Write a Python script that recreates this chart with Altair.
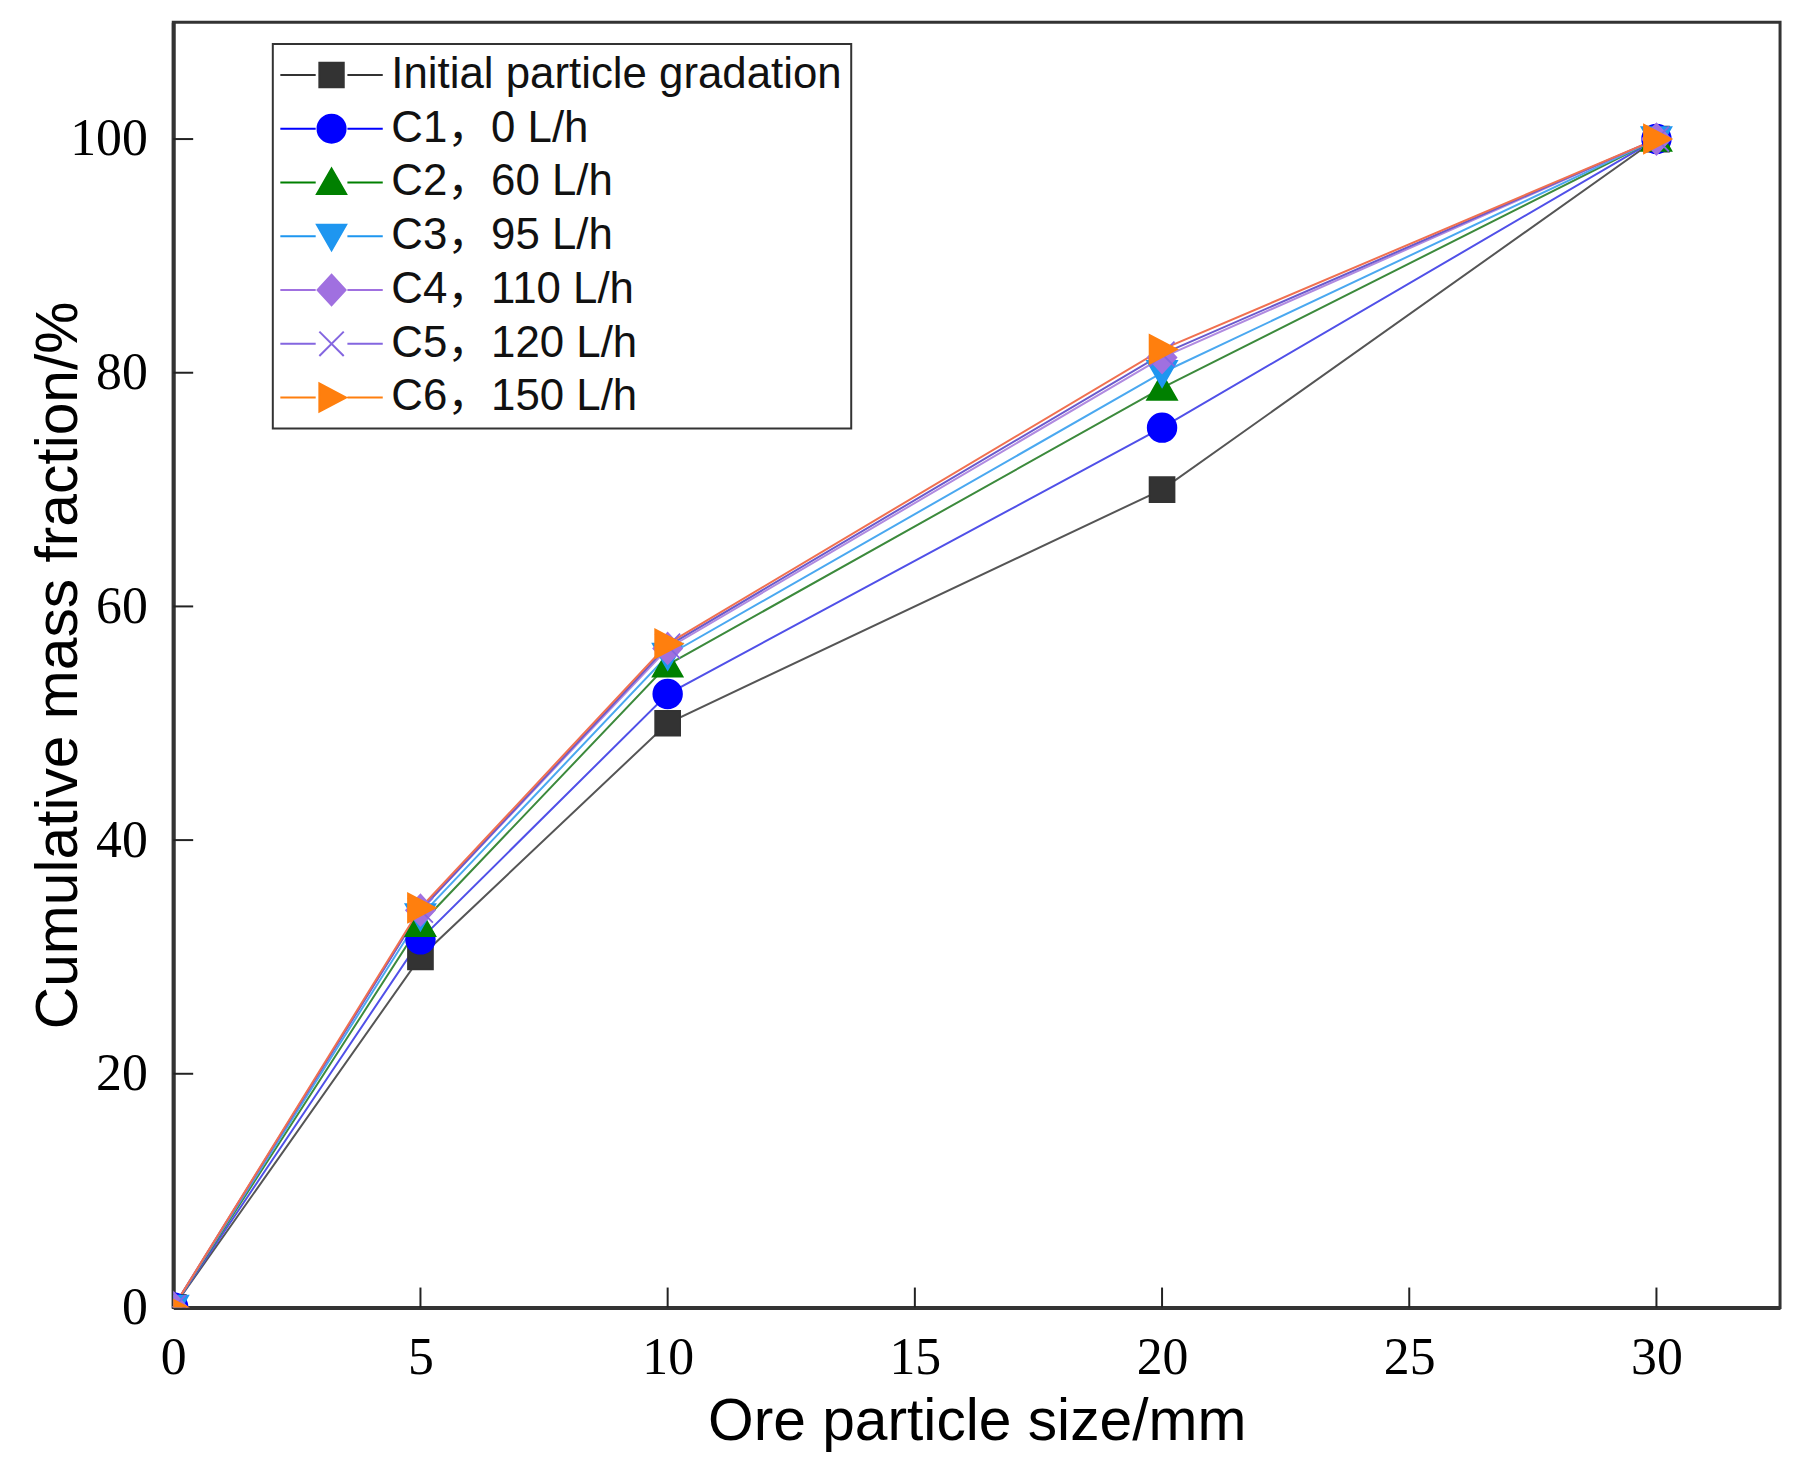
import altair as alt
import pandas as pd

# particle sizes (mm) and cumulative mass fraction (%)
sizes = [0, 5, 10, 20, 30]
initial = [0, 30.0, 50.0, 70.0, 100]
c1 = [0, 31.5, 52.5, 75.3, 100]
c2 = [0, 32.8, 55.0, 78.7, 100]
c3 = [0, 33.5, 55.8, 80.0, 100]
c4 = [0, 34.0, 56.4, 81.3, 100]
c5 = [0, 34.0, 56.6, 81.6, 100]
c6 = [0, 34.2, 56.8, 82.0, 100]

names = [
    "Initial particle gradation",
    "C1，0 L/h",
    "C2，60 L/h",
    "C3，95 L/h",
    "C4，110 L/h",
    "C5，120 L/h",
    "C6，150 L/h",
]
marker_colors = ["#333333", "#0000ff", "#008000", "#1e96f0", "#a070e0", "#8466e0", "#ff7f0e"]
line_colors = ["#555555", "#5050e8", "#3c8a3c", "#4aa8f0", "#b08ae0", "#6a5acd", "#f07050"]

x_ticks = [0, 5, 10, 15, 20, 25, 30]
y_ticks = [0, 20, 40, 60, 80, 100]

# marker outlines (unit square = 1) and the same with line tails for the legend
markers = [
    "M-1,-1H1V1H-1Z",
    "M1.15,0A1.15,1.15,0,1,1,-1.15,0A1.15,1.15,0,1,1,1.15,0Z",
    "M0,-1.15L1.2,0.95H-1.2Z",
    "M0,1.15L1.2,-0.95H-1.2Z",
    "M0,-1.25L1.15,0L0,1.25L-1.15,0Z",
    "M-1,-1L1,1M-1,1L1,-1",
    "M1.2,0L-1,-1.15V1.15Z",
]
tail = "M-4.2,0H-1.3M1.3,0H4.2"
legend_markers = [tail + m for m in markers]

all_series = [initial, c1, c2, c3, c4, c5, c6]
rows = []
for name, vals in zip(names, all_series):
    for s, v in zip(sizes, vals):
        rows.append({"size": s, "frac": v, "series": name})
df = pd.DataFrame(rows)

W, H = 1614, 1291
TICK = 20

x_scale = alt.Scale(domain=[0, 32.5], nice=False)
y_scale = alt.Scale(domain=[0, 110], nice=False)

x_axis = alt.Axis(
    values=x_ticks, ticks=False, tickSize=0, grid=False, labelFlush=False,
    labelFont="Liberation Serif", labelFontSize=52, labelColor="black", labelPadding=25,
    domainColor="#333333", domainWidth=4,
    title="Ore particle size/mm", titleFont="Liberation Sans", titleFontSize=59,
    titleFontWeight="normal", titleColor="black", titleY=86,
)
y_axis = alt.Axis(
    values=y_ticks, ticks=False, tickSize=0, grid=False, labelFlush=False,
    labelFont="Liberation Serif", labelFontSize=52, labelColor="black", labelPadding=26,
    domainColor="#333333", domainWidth=4,
    title="Cumulative mass fraction/%", titleFont="Liberation Sans", titleFontSize=59,
    titleFontWeight="normal", titleColor="black", titleX=-85, titleY=H / 2,
)

X = alt.X("size:Q", scale=x_scale, axis=x_axis)
Y = alt.Y("frac:Q", scale=y_scale, axis=y_axis)

lines = alt.Chart(df).mark_line(strokeWidth=2).encode(
    x=X, y=Y,
    color=alt.Color("series:N", scale=alt.Scale(domain=names, range=line_colors), legend=None),
    order="size:Q",
)

points = alt.Chart(df).mark_point(filled=True, size=625, strokeWidth=1.8, opacity=1, clip=True).encode(
    x=X, y=Y,
    fill=alt.Fill("series:N", scale=alt.Scale(domain=names, range=marker_colors), legend=None),
    stroke=alt.Stroke("series:N", scale=alt.Scale(domain=names, range=marker_colors), legend=None),
    shape=alt.Shape("series:N", scale=alt.Scale(domain=names, range=markers), legend=None),
)

legend = alt.Legend(
    orient="none", legendX=100, legendY=22, title=None,
    labelFont="Liberation Sans, Noto Sans CJK SC", labelFontSize=44, labelColor="#111111",
    labelLimit=0, fillColor="white", strokeColor="#333333", padding=9, rowPadding=10,
    symbolOffset=28, labelOffset=38, symbolSize=600, symbolStrokeWidth=2,
)

# legend-only layer: no rows survive the filter, the scales carry the entries
key = alt.Chart(df).transform_filter("datum.size < 0").mark_point(
    filled=True, size=600, strokeWidth=2, opacity=1
).encode(
    x=X, y=Y,
    fill=alt.Fill("series:N", scale=alt.Scale(domain=names, range=marker_colors), legend=legend),
    stroke=alt.Stroke("series:N", scale=alt.Scale(domain=names, range=marker_colors), legend=legend),
    shape=alt.Shape("series:N", scale=alt.Scale(domain=names, range=legend_markers), legend=legend),
)

# inward ticks
xt = pd.DataFrame({"size": x_ticks[1:]})
yt = pd.DataFrame({"frac": y_ticks[1:]})
x_tick_marks = alt.Chart(xt).mark_rule(color="#222222", strokeWidth=2).encode(
    x=X, y=alt.value(H), y2=alt.value(H - TICK),
)
y_tick_marks = alt.Chart(yt).mark_rule(color="#222222", strokeWidth=2).encode(
    y=Y, x=alt.value(0), x2=alt.value(TICK),
)

chart = (
    alt.layer(lines, points, x_tick_marks, y_tick_marks, key)
    .resolve_scale(shape="independent", fill="independent", stroke="independent")
    .properties(
        width=W, height=H,
        autosize=alt.AutoSizeParams(type="none"),
        padding={"left": 166, "top": 11, "right": 11, "bottom": 161},
        background="white",
    )
    .configure_view(stroke="#333333", strokeWidth=3)
    .configure_legend(strokeWidth=2)
)

chart.save("out.html", embed_options={"renderer": "svg", "actions": False})
